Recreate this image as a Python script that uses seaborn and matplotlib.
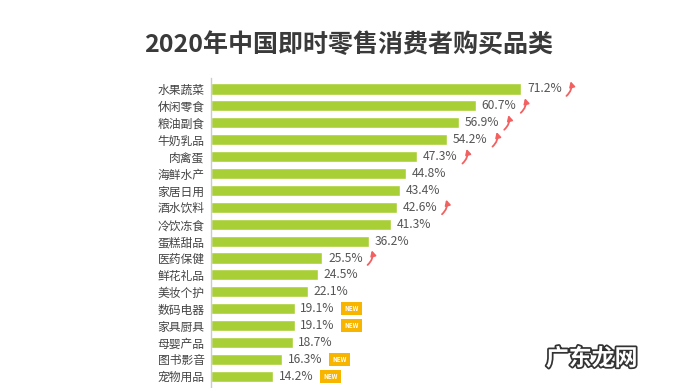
import numpy as np
import pandas as pd
import matplotlib.pyplot as plt
import matplotlib.patheffects as pe
from matplotlib.transforms import ScaledTranslation
import seaborn as sns

# data
categories = ["水果蔬菜", "休闲零食", "粮油副食", "牛奶乳品", "肉禽蛋", "海鲜水产",
              "家居日用", "酒水饮料", "冷饮冻食", "蛋糕甜品", "医药保健", "鲜花礼品",
              "美妆个护", "数码电器", "家具厨具", "母婴产品", "图书影音", "宠物用品"]
shares = [71.2, 60.7, 56.9, 54.2, 47.3, 44.8, 43.4, 42.6, 41.3, 36.2, 25.5, 24.5,
          22.1, 19.1, 19.1, 18.7, 16.3, 14.2]
rising = ["水果蔬菜", "休闲零食", "粮油副食", "牛奶乳品", "肉禽蛋", "酒水饮料", "医药保健"]
new_items = ["数码电器", "家具厨具", "图书影音", "宠物用品"]

sns.set_style("white")
plt.rcParams['font.family'] = ['Noto Sans CJK SC', 'DejaVu Sans']

df = pd.DataFrame({"cat": categories, "share": shares})

fig = plt.figure(figsize=(6.8, 3.88), dpi=100)
ax = fig.add_axes([0.311, 0.0, 0.64, 0.799])
sns.barplot(data=df, y="cat", x="share", orient="h", color="#a8cf35",
            saturation=1, width=0.66, ax=ax)

ax.set_xlim(0, 71.2 * 434 / 309)
ax.set_ylim(17.69, -0.65)
ax.set_xlabel("")
ax.set_ylabel("")
ax.set_xticks([])
for s in ["top", "right", "bottom"]:
    ax.spines[s].set_visible(False)
ax.spines["left"].set_color("#cccccc")
ax.spines["left"].set_linewidth(1)
ax.tick_params(axis="y", length=0, pad=5, labelsize=8.5, labelcolor="#444444")


def shifted(dx, dy):
    # data coords moved by (dx, dy) points
    return ax.transData + ScaledTranslation(dx / 72, dy / 72, fig.dpi_scale_trans)


for i, (c, v) in enumerate(zip(categories, shares)):
    ax.annotate(f"{v}%", (v, i), xytext=(4, 0), textcoords="offset points",
                va="center", ha="left", fontsize=8.7, color="#555555")
    if c in rising:
        ax.annotate("", xy=(v, i), xycoords=shifted(35.5, 5.5),
                    xytext=(v, i), textcoords=shifted(32.5, -5),
                    arrowprops=dict(arrowstyle="-|>,head_length=0.3,head_width=0.16",
                                    color="#f26060", lw=1.3,
                                    connectionstyle="arc3,rad=0.3",
                                    shrinkA=0, shrinkB=0))
    if c in new_items:
        ax.annotate("NEW", (v, i), xytext=(36, 0), textcoords="offset points",
                    va="center", ha="left", fontsize=4.5, color="white",
                    fontweight="bold",
                    bbox=dict(boxstyle="square,pad=0.5", fc="#f7b500", ec="none"))

fig.text(0.512, 0.885, "2020年中国即时零售消费者购买品类", ha="center", va="center",
         fontsize=18, fontweight="bold", color="#3a3a3a")

fig.text(0.87, 0.075, "广东龙网", ha="center", va="center", fontsize=16.5,
         fontweight="bold", color="white", style="italic",
         path_effects=[pe.withStroke(linewidth=2.5, foreground="#333333")])

fig.savefig("out.png", dpi=100)
